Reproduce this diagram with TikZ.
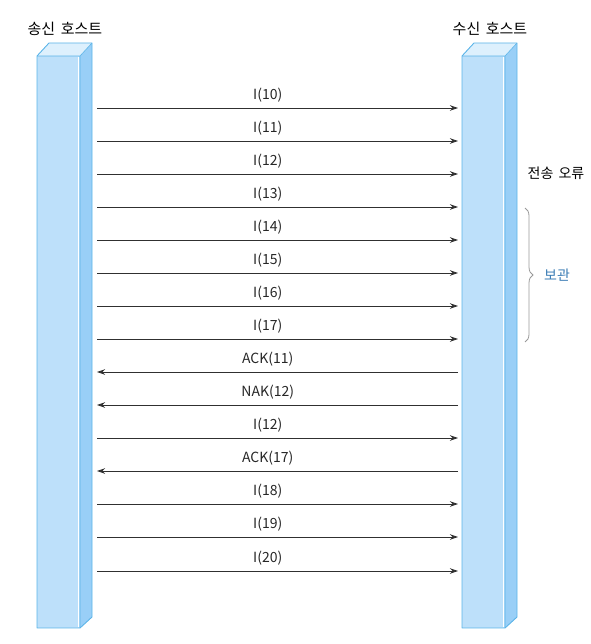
\documentclass[tikz,border=0pt]{standalone}
\usepackage{fontspec}
\setmainfont{Noto Sans CJK KR}
\usetikzlibrary{arrows.meta,decorations.pathreplacing}
\definecolor{barfront}{HTML}{BDE0FA}
\definecolor{barside}{HTML}{99CFF7}
\definecolor{bartop}{HTML}{DDF0FD}
\definecolor{baredge}{HTML}{5BB4E8}
\definecolor{keepblue}{HTML}{3C7DB5}
\definecolor{msgline}{HTML}{303030}
\tikzset{
  barface/.style={draw=baredge, line width=0.9pt, line join=round},
  msg/.style={draw=msgline, line width=0.9pt, -{Stealth[length=8pt,width=5.5pt]}},
  msglabel/.style={font=\fontsize{14}{16}\selectfont, text=black!85, inner sep=0pt},
  title/.style={font=\fontsize{15}{17}\selectfont, text=black, inner sep=0pt},
}
\begin{document}
\begin{tikzpicture}[x=1pt,y=-1pt]
\useasboundingbox (0,0) rectangle (590,644);
% left bar
\fill[barfront] (37,56) rectangle (80,628);
\fill[barside] (80,56) -- (92,43) -- (92,617) -- (80,628) -- cycle;
\fill[bartop] (37,56) -- (49,43) -- (92,43) -- (80,56) -- cycle;
\draw[barface] (37,56) -- (49,43) -- (92,43) -- (92,617) -- (80,628) -- (37,628) -- cycle;
\draw[baredge, line width=0.6pt] (37,56) -- (80,56) -- (92,43) (80,56) -- (80,628);
\draw[white, line width=0.6pt] (78.5,57) -- (78.5,627);
% right bar
\fill[barfront] (462,56) rectangle (505,628);
\fill[barside] (505,56) -- (517,43) -- (517,617) -- (505,628) -- cycle;
\fill[bartop] (462,56) -- (474,43) -- (517,43) -- (505,56) -- cycle;
\draw[barface] (462,56) -- (474,43) -- (517,43) -- (517,617) -- (505,628) -- (462,628) -- cycle;
\draw[baredge, line width=0.6pt] (462,56) -- (505,56) -- (517,43) (505,56) -- (505,628);
\draw[white, line width=0.6pt] (503.5,57) -- (503.5,627);
% titles
\node[title] (snd) at (65,29) {송신\hspace{0.15em} 호스트};
\node[title] (rcv) at (490,29) {수신\hspace{0.15em} 호스트};
% endpoints
\foreach \i/\y in {1/108,2/141,3/174,4/207,5/240,6/273,7/306,8/339,9/372,10/405,11/438,12/471,13/504,14/537,15/571}{
  \coordinate (L\i) at (97,\y);
  \coordinate (R\i) at (458,\y);
}
\foreach \i/\t in {1/I(10),2/I(11),3/I(12),4/I(13),5/I(14),6/I(15),7/I(16),8/I(17),11/I(12),13/I(18),14/I(19),15/I(20)}{
  \draw[msg] (L\i) -- node[msglabel, pos=0.473, above=5.5pt] {\t} (R\i);
}
\foreach \i/\t in {9/ACK(11),10/NAK(12),12/ACK(17)}{
  \draw[msg] (R\i) -- node[msglabel, pos=0.527, above=5.5pt] {\t} (L\i);
}
% right side labels
\node[font=\fontsize{14}{16}\selectfont, inner sep=0pt] (err) at (556,173) {전송\hspace{0.15em} 오류};
\coordinate (b1) at (525,208);
\coordinate (b2) at (525,342);
\draw[black!40, line width=0.8pt, decorate, decoration={brace, amplitude=8pt}] (b1) -- (b2);
\node[font=\fontsize{14}{16}\selectfont, text=keepblue, inner sep=0pt] (keep) at (557,275) {보관};
\end{tikzpicture}
\end{document}
